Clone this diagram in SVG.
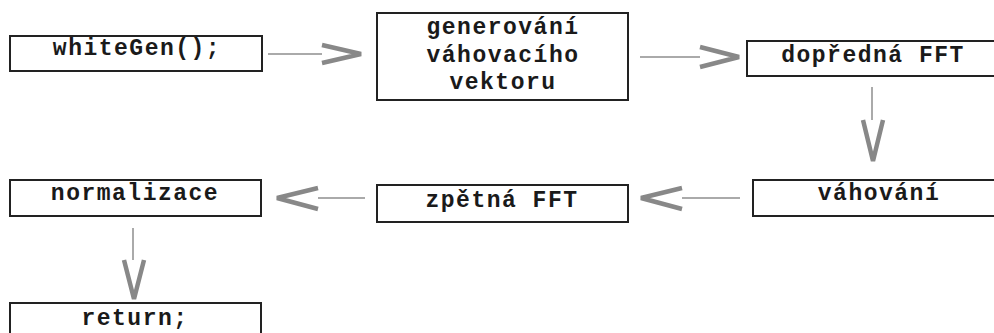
<svg xmlns="http://www.w3.org/2000/svg" width="994" height="333" viewBox="0 0 994 333">
<style>
.box{fill:#fff;stroke:#222;stroke-width:2}
.t{font-family:"Liberation Mono","Courier New",monospace;font-size:23px;font-weight:bold;fill:#1a1a1a;text-anchor:middle;letter-spacing:1.5px}
.ln{stroke:#aaa;stroke-width:2;fill:none}
.hd{stroke:#888;stroke-width:4.5;fill:none;stroke-linejoin:miter;stroke-linecap:butt}
</style>
<rect width="994" height="333" fill="#fff"/>
<g id="n1"><rect class="box" x="10" y="36" width="252" height="35"/><text class="t" x="137" y="55">whiteGen();</text></g>
<g id="n2"><rect class="box" x="377" y="13" width="251" height="87"/><text class="t" x="503" y="34">generování</text><text class="t" x="503" y="62">váhovacího</text><text class="t" x="503" y="89">vektoru</text></g>
<g id="n3"><rect class="box" x="747" y="41" width="260" height="35"/><text class="t" x="873" y="62">dopředná FFT</text></g>
<g id="n4"><rect class="box" x="753" y="180" width="260" height="36"/><text class="t" x="879" y="200">váhování</text></g>
<g id="n5"><rect class="box" x="377" y="185" width="251" height="37"/><text class="t" x="502" y="207">zpětná FFT</text></g>
<g id="n6"><rect class="box" x="10" y="180" width="251" height="36"/><text class="t" x="135" y="200">normalizace</text></g>
<g id="n7"><rect class="box" x="10" y="303" width="251" height="40"/><text class="t" x="135" y="325">return;</text></g>
<g id="connectors">
<line class="ln" x1="268" y1="54" x2="322" y2="54"/><polyline class="hd" points="322,45 361,54 322,63"/>
<line class="ln" x1="640" y1="57" x2="700" y2="57"/><polyline class="hd" points="700,47 739,57 700,67"/>
<line class="ln" x1="872" y1="87" x2="872" y2="120"/><polyline class="hd" points="863,120 873,161 883,120"/>
<line class="ln" x1="740" y1="198" x2="682" y2="198"/><polyline class="hd" points="682,188 641,198 682,209"/>
<line class="ln" x1="365" y1="198" x2="318" y2="198"/><polyline class="hd" points="318,188 277,198 318,209"/>
<line class="ln" x1="133" y1="228" x2="133" y2="260"/><polyline class="hd" points="124,260 134,299 144,260"/>
</g>
</svg>
